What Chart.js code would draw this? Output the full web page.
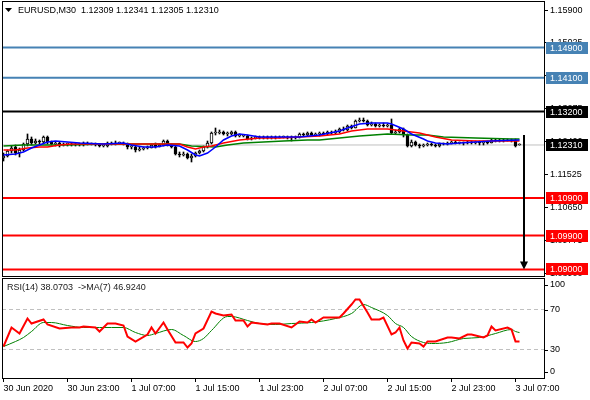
<!DOCTYPE html>
<html>
<head>
<meta charset="utf-8">
<script src="https://cdn.jsdelivr.net/npm/chart.js@4.4.1/dist/chart.umd.min.js"></script>
<style>
  html, body { margin: 0; padding: 0; background: #fff; }
  #wrap { position: relative; width: 590px; height: 400px; }
  #main { position: absolute; left: 0; top: 0; }
  #rsi { position: absolute; left: 0; top: 277px; }
</style>
</head>
<body>
<div id="wrap">
  <canvas id="main" width="590" height="277"></canvas>
  <canvas id="rsi" width="590" height="123"></canvas>
</div>
<script>
// --- data (M30 bars, bar 0 = 30 Jun 15:00) ---
const symbolTitle = 'EURUSD,M30  1.12309 1.12341 1.12305 1.12310';
const rsiTitle = 'RSI(14) 38.0703  ->MA(7) 46.9240';

const timeTickBars = [0, 16, 32, 48, 64, 80, 96, 112, 128];
const timeLabels = ['30 Jun 2020', '30 Jun 23:00', '1 Jul 07:00', '1 Jul 15:00', '1 Jul 23:00',
  '2 Jul 07:00', '2 Jul 15:00', '2 Jul 23:00', '3 Jul 07:00'];

const priceTicks = [1.15900, 1.15025, 1.14150, 1.13275, 1.12400, 1.11525, 1.10650, 1.09775, 1.08900];

const openPrices = [
  1.11964, 1.12017, 1.12150, 1.12257, 1.12097, 1.12177, 1.12337, 1.12470, 1.12363, 1.12416,
  1.12390, 1.12523, 1.12390, 1.12337, 1.12363, 1.12310, 1.12337, 1.12337, 1.12310, 1.12337,
  1.12310, 1.12363, 1.12337, 1.12337, 1.12310, 1.12283, 1.12283, 1.12363, 1.12337, 1.12363,
  1.12363, 1.12337, 1.12257, 1.12257, 1.12177, 1.12204, 1.12230, 1.12230, 1.12310, 1.12257,
  1.12310, 1.12416, 1.12310, 1.12257, 1.12071, 1.12044, 1.12071, 1.11964, 1.12017, 1.12097,
  1.12150, 1.12257, 1.12363, 1.12629, 1.12629, 1.12656, 1.12603, 1.12603, 1.12656, 1.12549,
  1.12549, 1.12549, 1.12470, 1.12496, 1.12523, 1.12496, 1.12523, 1.12496, 1.12523, 1.12496,
  1.12523, 1.12523, 1.12496, 1.12496, 1.12523, 1.12603, 1.12576, 1.12629, 1.12576, 1.12603,
  1.12629, 1.12603, 1.12656, 1.12629, 1.12656, 1.12736, 1.12709, 1.12815, 1.12762, 1.12948,
  1.12975, 1.12948, 1.12842, 1.12869, 1.12815, 1.12842, 1.12815, 1.12842, 1.12629, 1.12656,
  1.12736, 1.12576, 1.12283, 1.12390, 1.12310, 1.12283, 1.12310, 1.12337, 1.12310, 1.12283,
  1.12337, 1.12337, 1.12363, 1.12390, 1.12363, 1.12363, 1.12363, 1.12390, 1.12363, 1.12390,
  1.12363, 1.12390, 1.12363, 1.12443, 1.12416, 1.12443, 1.12416, 1.12443, 1.12416, 1.12309
];
const highPrices = [
  1.12097, 1.12177, 1.12283, 1.12310, 1.12230, 1.12363, 1.12603, 1.12523, 1.12470, 1.12443,
  1.12549, 1.12549, 1.12416, 1.12390, 1.12390, 1.12363, 1.12363, 1.12363, 1.12363, 1.12363,
  1.12390, 1.12390, 1.12363, 1.12363, 1.12337, 1.12310, 1.12390, 1.12390, 1.12416, 1.12390,
  1.12390, 1.12363, 1.12310, 1.12283, 1.12257, 1.12257, 1.12283, 1.12337, 1.12363, 1.12337,
  1.12443, 1.12443, 1.12337, 1.12283, 1.12124, 1.12124, 1.12097, 1.12071, 1.12124, 1.12177,
  1.12283, 1.12416, 1.12656, 1.12762, 1.12709, 1.12682, 1.12656, 1.12682, 1.12682, 1.12603,
  1.12576, 1.12576, 1.12523, 1.12549, 1.12549, 1.12549, 1.12549, 1.12549, 1.12549, 1.12549,
  1.12549, 1.12549, 1.12549, 1.12549, 1.12629, 1.12629, 1.12656, 1.12656, 1.12629, 1.12656,
  1.12656, 1.12682, 1.12682, 1.12709, 1.12762, 1.12789, 1.12842, 1.12842, 1.12975, 1.13028,
  1.13028, 1.12975, 1.12922, 1.12895, 1.12869, 1.12895, 1.12869, 1.13002, 1.12709, 1.12762,
  1.12762, 1.12603, 1.12443, 1.12416, 1.12337, 1.12337, 1.12363, 1.12363, 1.12337, 1.12363,
  1.12363, 1.12390, 1.12416, 1.12416, 1.12390, 1.12390, 1.12416, 1.12416, 1.12416, 1.12416,
  1.12416, 1.12416, 1.12470, 1.12470, 1.12470, 1.12470, 1.12470, 1.12470, 1.12470, 1.12341
];
const lowPrices = [
  1.11884, 1.11991, 1.12097, 1.12044, 1.11991, 1.12150, 1.12283, 1.12310, 1.12337, 1.12337,
  1.12363, 1.12337, 1.12310, 1.12283, 1.12257, 1.12283, 1.12283, 1.12283, 1.12283, 1.12283,
  1.12283, 1.12310, 1.12310, 1.12283, 1.12257, 1.12257, 1.12257, 1.12310, 1.12310, 1.12337,
  1.12310, 1.12204, 1.12204, 1.12124, 1.12150, 1.12177, 1.12204, 1.12230, 1.12230, 1.12257,
  1.12283, 1.12283, 1.12230, 1.12044, 1.11991, 1.12017, 1.11938, 1.11858, 1.11991, 1.12071,
  1.12124, 1.12230, 1.12337, 1.12576, 1.12603, 1.12576, 1.12549, 1.12576, 1.12523, 1.12523,
  1.12523, 1.12443, 1.12443, 1.12470, 1.12470, 1.12470, 1.12470, 1.12470, 1.12470, 1.12496,
  1.12496, 1.12470, 1.12416, 1.12470, 1.12496, 1.12549, 1.12549, 1.12549, 1.12549, 1.12549,
  1.12576, 1.12576, 1.12603, 1.12603, 1.12629, 1.12682, 1.12682, 1.12736, 1.12762, 1.12922,
  1.12922, 1.12815, 1.12815, 1.12789, 1.12789, 1.12789, 1.12789, 1.12603, 1.12603, 1.12629,
  1.12523, 1.12257, 1.12257, 1.12283, 1.12230, 1.12257, 1.12283, 1.12283, 1.12257, 1.12257,
  1.12310, 1.12310, 1.12337, 1.12337, 1.12337, 1.12310, 1.12337, 1.12337, 1.12337, 1.12310,
  1.12310, 1.12337, 1.12363, 1.12390, 1.12390, 1.12390, 1.12416, 1.12390, 1.12257, 1.12305
];
const closePrices = [
  1.12017, 1.12150, 1.12230, 1.12097, 1.12177, 1.12337, 1.12470, 1.12363, 1.12416, 1.12390,
  1.12523, 1.12390, 1.12337, 1.12363, 1.12310, 1.12337, 1.12337, 1.12310, 1.12337, 1.12310,
  1.12363, 1.12337, 1.12337, 1.12310, 1.12283, 1.12283, 1.12363, 1.12337, 1.12363, 1.12363,
  1.12337, 1.12257, 1.12257, 1.12177, 1.12204, 1.12230, 1.12230, 1.12310, 1.12257, 1.12310,
  1.12416, 1.12310, 1.12257, 1.12071, 1.12044, 1.12071, 1.11964, 1.12017, 1.12097, 1.12150,
  1.12257, 1.12363, 1.12629, 1.12629, 1.12656, 1.12603, 1.12603, 1.12656, 1.12549, 1.12549,
  1.12549, 1.12470, 1.12496, 1.12523, 1.12496, 1.12523, 1.12496, 1.12523, 1.12496, 1.12523,
  1.12523, 1.12496, 1.12496, 1.12523, 1.12603, 1.12576, 1.12629, 1.12576, 1.12603, 1.12629,
  1.12603, 1.12656, 1.12629, 1.12656, 1.12736, 1.12709, 1.12815, 1.12762, 1.12948, 1.12975,
  1.12948, 1.12842, 1.12869, 1.12815, 1.12842, 1.12815, 1.12842, 1.12629, 1.12656, 1.12736,
  1.12576, 1.12283, 1.12390, 1.12310, 1.12283, 1.12310, 1.12337, 1.12310, 1.12283, 1.12337,
  1.12337, 1.12363, 1.12390, 1.12363, 1.12363, 1.12363, 1.12390, 1.12363, 1.12390, 1.12363,
  1.12390, 1.12363, 1.12443, 1.12416, 1.12443, 1.12416, 1.12443, 1.12416, 1.12283, 1.12310
];

// moving averages, [bar, price] read at points along each line
const blueMa = [[0, 1.12044], [3, 1.12071], [5, 1.12124], [7, 1.12230], [9, 1.12310], [11, 1.12390],
  [13, 1.12416], [16, 1.12390], [19, 1.12363], [25, 1.12337], [30, 1.12363], [32, 1.12310],
  [35, 1.12257], [38, 1.12257], [41, 1.12310], [44, 1.12283], [46, 1.12177], [48, 1.12044],
  [49, 1.12017], [51, 1.12097], [53, 1.12257], [55, 1.12443], [57, 1.12549], [59, 1.12603],
  [61, 1.12576], [64, 1.12523], [74, 1.12523], [79, 1.12576], [84, 1.12682], [86, 1.12762],
  [89, 1.12869], [92, 1.12895], [96, 1.12895], [97, 1.12869], [100, 1.12736], [102, 1.12603],
  [105, 1.12470], [106, 1.12416], [108, 1.12363], [111, 1.12337], [114, 1.12363], [118, 1.12390],
  [122, 1.12416], [129, 1.12443]];
const redMa = [[0, 1.12177], [3, 1.12177], [6, 1.12230], [9, 1.12257], [11, 1.12257], [14, 1.12310],
  [17, 1.12337], [30, 1.12337], [44, 1.12337], [46, 1.12257], [48, 1.12204], [50, 1.12257],
  [52, 1.12283], [55, 1.12363], [59, 1.12443], [64, 1.12496], [69, 1.12496], [79, 1.12549],
  [84, 1.12603], [87, 1.12682], [91, 1.12736], [96, 1.12736], [100, 1.12682], [104, 1.12629],
  [106, 1.12576], [108, 1.12523], [112, 1.12443], [118, 1.12416], [129, 1.12416]];
const greenMa = [[0, 1.12283], [5, 1.12310], [15, 1.12310], [26, 1.12337], [44, 1.12337], [47, 1.12283],
  [53, 1.12257], [56, 1.12310], [60, 1.12363], [65, 1.12390], [70, 1.12416], [76, 1.12443],
  [79, 1.12443], [84, 1.12496], [89, 1.12549], [96, 1.12603], [102, 1.12576], [106, 1.12576],
  [110, 1.12523], [118, 1.12496], [127, 1.12470], [129, 1.12470]];

const levelPrices = [1.14900, 1.14100, 1.13200, 1.10900, 1.09900, 1.09000];
const bidPrice = 1.12310;
const arrowBar = 130;
const arrowFromPrice = 1.12576;
const arrowToPrice = 1.09000;

// RSI(14) and its MA(7), [bar, value]
const rsiLine = [[0, 33], [2, 52], [4, 46], [6, 61], [7, 56], [10, 60], [11, 55], [14, 51], [17, 52],
  [19, 52], [20, 53], [23, 52], [24, 48], [26, 56], [28, 56], [30, 54], [31, 43], [33, 38], [36, 45],
  [37, 52], [38, 46], [40, 57], [41, 50], [43, 37], [45, 37], [46, 32], [47, 36], [48, 46], [50, 51],
  [52, 68], [53, 66], [55, 64], [57, 65], [58, 59], [60, 59], [61, 53], [62, 57], [66, 55], [67, 56],
  [69, 56], [72, 52], [74, 58], [76, 57], [77, 60], [78, 57], [80, 62], [84, 62], [85, 66], [87, 75],
  [88, 80], [89, 80], [91, 67], [92, 60], [94, 60], [95, 62], [97, 45], [98, 47], [99, 52], [100, 39],
  [101, 31], [102, 37], [104, 36], [105, 33], [106, 38], [108, 38], [111, 42], [112, 42], [114, 41],
  [116, 45], [117, 45], [120, 42], [121, 44], [122, 53], [123, 49], [126, 52], [127, 50],
  [128, 38.07], [129, 38.07]];
const rsiMa = [[0, 33], [3, 38], [5, 42], [7, 48], [10, 57], [12, 57], [16, 54], [20, 52], [24, 52],
  [27, 52], [30, 52], [33, 47], [36, 44], [38, 46], [42, 50], [45, 44], [48, 38], [50, 41], [52, 49],
  [56, 63], [57, 63], [61, 59], [64, 56], [68, 55], [72, 56], [77, 57], [83, 61], [87, 66], [90, 75],
  [92, 72], [96, 64], [98, 56], [100, 52], [102, 43], [105, 37], [107, 36], [111, 37], [115, 41],
  [119, 42], [123, 46], [127, 50], [128, 48], [129, 46.92]];
const rsiLevels = [30, 70];
const rsiTicks = [100, 70, 30, 0];

// --- layout / style ---
const xMin = -0.375, xMax = 135.375;        // 4 px per bar
const yMin = 1.08799, yMax = 1.16140;
const levelColors = ['#4682b4', '#4682b4', '#000000', '#ff0000', '#ff0000', '#ff0000'];
const tagColors = levelColors;
const FONT = '"Liberation Sans", Arial, sans-serif';

Chart.defaults.font.family = FONT;
Chart.defaults.font.size = 9;
Chart.defaults.color = '#000';

const bars = closePrices.map((_, i) => i);
const pts = arr => arr.map(([x, y]) => ({ x, y }));
const maLine = (arr, color) => ({
  type: 'line', data: pts(arr), borderColor: color, borderWidth: 1.5,
  pointRadius: 0, tension: 0
});
const hLine = (p, color, width) => ({
  type: 'line', data: [{ x: xMin, y: p }, { x: xMax, y: p }],
  borderColor: color, borderWidth: width, pointRadius: 0
});
// keep the plot area edge-to-edge: no extra room for end labels
const noPad = s => { s.paddingTop = 0; s.paddingBottom = 0; s.paddingLeft = 0; s.paddingRight = 0; };

const mainDecor = {
  id: 'mainDecor',
  afterDraw(chart) {
    const { ctx, chartArea: a, scales: { x, y } } = chart;
    ctx.save();
    ctx.strokeStyle = '#000';
    ctx.lineWidth = 1;
    ctx.strokeRect(a.left + 0.5, a.top + 0.5, a.right - a.left - 1, a.bottom - a.top - 1);

    // arrow to target
    const ax = Math.round(x.getPixelForValue(arrowBar));
    const y1 = y.getPixelForValue(arrowFromPrice);
    const y2 = y.getPixelForValue(arrowToPrice);
    ctx.fillStyle = '#000';
    ctx.lineWidth = 2;
    ctx.beginPath();
    ctx.moveTo(ax, y1);
    ctx.lineTo(ax, y2 - 6);
    ctx.stroke();
    ctx.beginPath();
    ctx.moveTo(ax - 4, y2 - 8);
    ctx.lineTo(ax + 4, y2 - 8);
    ctx.lineTo(ax, y2);
    ctx.closePath();
    ctx.fill();

    // price tags on the axis
    ctx.font = '9px ' + FONT;
    ctx.textBaseline = 'middle';
    const tags = levelPrices.map((p, i) => [p, tagColors[i]]).concat([[bidPrice, '#000000']]);
    tags.forEach(([p, c]) => {
      const yc = Math.round(y.getPixelForValue(p));
      ctx.fillStyle = c;
      ctx.fillRect(a.right + 1, yc - 6, 42, 12);
      ctx.fillStyle = '#fff';
      ctx.fillText(p.toFixed(5), a.right + 5, yc + 0.5);
    });

    // title
    ctx.fillStyle = '#000';
    ctx.beginPath();
    ctx.moveTo(5, 8);
    ctx.lineTo(12, 8);
    ctx.lineTo(8.5, 12);
    ctx.closePath();
    ctx.fill();
    ctx.fillText(symbolTitle, 18, 11);
    ctx.restore();
  }
};

new Chart(document.getElementById('main'), {
  type: 'bar',
  data: {
    datasets: [
      maLine(blueMa, '#0000ff'),
      maLine(redMa, '#ff0000'),
      maLine(greenMa, '#008000'),
      {
        type: 'bar',
        data: bars.map(i => ({ x: i, y: [openPrices[i], closePrices[i]] })),
        backgroundColor: bars.map(i => closePrices[i] >= openPrices[i] ? '#ffffff' : '#000000'),
        borderColor: '#000', borderWidth: 1, borderSkipped: false,
        barThickness: 3, minBarLength: 1, grouped: false
      },
      {
        type: 'bar',
        data: bars.map(i => ({ x: i, y: [lowPrices[i], highPrices[i]] })),
        backgroundColor: '#000', borderWidth: 0, barThickness: 1, grouped: false
      },
      ...levelPrices.map((p, i) => hLine(p, levelColors[i], 2)),
      hLine(bidPrice, '#c0c0c0', 1)
    ]
  },
  options: {
    responsive: false,
    animation: false,
    events: [],
    layout: { padding: { top: 1, left: 2, right: 0, bottom: 0 } },
    plugins: { legend: { display: false }, tooltip: { enabled: false } },
    scales: {
      x: { type: 'linear', min: xMin, max: xMax, display: false, offset: false },
      y: {
        position: 'right', min: yMin, max: yMax, beginAtZero: false,
        afterBuildTicks: s => { s.ticks = priceTicks.map(v => ({ value: v })); },
        afterFit: s => { s.width = 45; noPad(s); },
        ticks: { callback: v => v.toFixed(5), padding: 2, autoSkip: false, color: '#000' },
        grid: { drawOnChartArea: false, tickLength: 3, color: '#000' },
        border: { display: false }
      }
    }
  },
  plugins: [mainDecor]
});

const rsiDecor = {
  id: 'rsiDecor',
  afterDraw(chart) {
    const { ctx, chartArea: a, scales: { y } } = chart;
    ctx.save();
    ctx.strokeStyle = '#000';
    ctx.lineWidth = 1;
    ctx.strokeRect(a.left + 0.5, a.top + 0.5, a.right - a.left - 1, a.bottom - a.top - 1);
    ctx.font = '9px ' + FONT;
    ctx.textBaseline = 'middle';
    ctx.fillStyle = '#000';
    rsiTicks.forEach(v => {
      const yy = Math.min(Math.max(y.getPixelForValue(v), a.top + 7), a.bottom - 7);
      ctx.beginPath();
      ctx.moveTo(a.right, Math.round(yy) + 0.5);
      ctx.lineTo(a.right + 3, Math.round(yy) + 0.5);
      ctx.stroke();
      ctx.fillText(String(v), a.right + 5, yy);
    });
    ctx.fillStyle = '#1a1a1a';
    ctx.fillText(rsiTitle, 7, a.top + 10);
    ctx.restore();
  }
};

new Chart(document.getElementById('rsi'), {
  type: 'line',
  data: {
    datasets: [
      { data: pts(rsiLine), borderColor: '#ff0000', borderWidth: 2, pointRadius: 0, tension: 0 },
      { data: pts(rsiMa), borderColor: '#008000', borderWidth: 1, pointRadius: 0, cubicInterpolationMode: 'monotone' },
      ...rsiLevels.map(v => ({
        data: [{ x: xMin, y: v }, { x: xMax, y: v }],
        borderColor: '#c0c0c0', borderWidth: 1, borderDash: [4, 3], pointRadius: 0
      }))
    ]
  },
  options: {
    responsive: false,
    animation: false,
    events: [],
    layout: { padding: { top: 1, left: 2, right: 0, bottom: 0 } },
    plugins: { legend: { display: false }, tooltip: { enabled: false } },
    scales: {
      x: {
        type: 'linear', min: xMin, max: xMax, offset: false,
        afterBuildTicks: s => { s.ticks = timeTickBars.map(v => ({ value: v })); },
        afterFit: s => { s.height = 21; noPad(s); },
        ticks: {
          callback: v => timeLabels[timeTickBars.indexOf(v)],
          align: 'start', maxRotation: 0, autoSkip: false, padding: 1, color: '#000'
        },
        grid: { drawOnChartArea: false, tickLength: 3, color: '#000' },
        border: { display: false }
      },
      y: {
        position: 'right', min: 0.5, max: 101.5,
        afterFit: s => { s.width = 45; noPad(s); },
        ticks: { display: false },
        grid: { display: false },
        border: { display: false }
      }
    }
  },
  plugins: [rsiDecor]
});
</script>
</body>
</html>
